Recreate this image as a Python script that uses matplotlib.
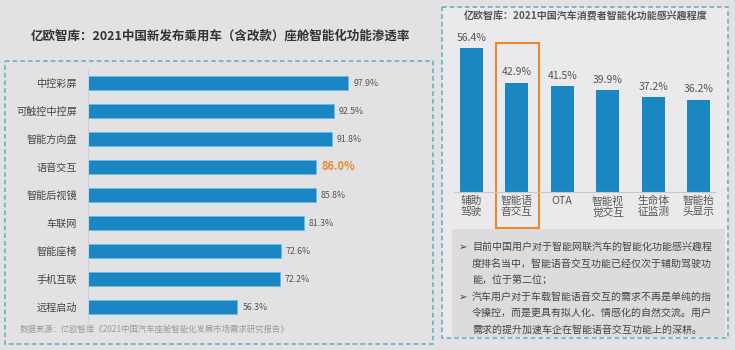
import matplotlib
matplotlib.use('Agg')
import matplotlib.pyplot as plt
from matplotlib.patches import Rectangle

plt.rcParams['font.family'] = ['Noto Sans CJK SC', 'DejaVu Sans']

# left chart: penetration rate of cockpit functions (%)
left_cats = ['中控彩屏', '可触控中控屏', '智能方向盘', '语音交互', '智能后视镜',
             '车联网', '智能座椅', '手机互联', '远程启动']
left_vals = [97.9, 92.5, 91.8, 86.0, 85.8, 81.3, 72.6, 72.2, 56.3]
left_hi = '语音交互'

# right chart: consumer interest (%)
right_cats = ['辅助\n驾驶', '智能语\n音交互', 'OTA', '智能视\n觉交互', '生命体\n征监测', '智能抬\n头显示']
right_vals = [56.4, 42.9, 41.5, 39.9, 37.2, 36.2]
right_hi = 1

notes = [
    ('➢', '目前中国用户对于智能网联汽车的智能化功能感兴趣程'),
    ('', '度排名当中，智能语音交互功能已经仅次于辅助驾驶功'),
    ('', '能，位于第二位；'),
    ('➢', '汽车用户对于车载智能语音交互的需求不再是单纯的指'),
    ('', '令操控，而是更具有拟人化、情感化的自然交流。用户'),
    ('', '需求的提升加速车企在智能语音交互功能上的深耕。'),
]

BLUE = '#1a87c3'
ORANGE = '#e8892b'
TEAL = '#5aaebd'
GRAY = '#555555'
W, H = 735, 350


def px_axes(fig, x0, y0, x1, y1, **kw):
    # axes from pixel box (top-left origin)
    return fig.add_axes([x0 / W, 1 - y1 / H, (x1 - x0) / W, (y1 - y0) / H], **kw)


fig = plt.figure(figsize=(7.35, 3.5), dpi=100, facecolor='#e2e2e4')

# background / decoration layer in pixel coords
bg = px_axes(fig, 0, 0, W, H)
bg.set_xlim(0, W)
bg.set_ylim(H, 0)
bg.axis('off')
bg.set_zorder(0)

bg.add_patch(Rectangle((5, 61), 428, 283, fill=False, ec=TEAL, lw=1.1, ls=(0, (3, 2))))
bg.add_patch(Rectangle((442, 7), 286, 331, fc='#eaeaec', ec=TEAL, lw=1.1, ls=(0, (3, 2))))
bg.add_patch(Rectangle((452, 229), 273, 108, fc='#dcdcdf', ec='none'))
bg.add_patch(Rectangle((496, 43), 43, 185, fill=False, ec=ORANGE, lw=1.5))

bg.text(220, 36, '亿欧智库：2021中国新发布乘用车（含改款）座舱智能化功能渗透率',
        ha='center', va='center', fontsize=9, fontweight='bold', color='#333333')
bg.text(586, 16, '亿欧智库：2021中国汽车消费者智能化功能感兴趣程度',
        ha='center', va='center', fontsize=7.2, fontweight='bold', color=GRAY)
bg.text(20, 329, '数据来源：亿欧智库《2021中国汽车座舱智能化发展市场需求研究报告》',
        ha='left', va='center', fontsize=6, color='#9a9a9a')

for i, (bullet, line) in enumerate(notes):
    y = 247 + i * 16.5
    if bullet:
        bg.text(459, y, bullet, ha='left', va='center', fontsize=7.5, color='#444444')
    bg.text(472, y, line, ha='left', va='center', fontsize=7.2, color='#444444')

# left horizontal bar chart
ax1 = px_axes(fig, 88, 69, 380, 321)
ax1.set_facecolor('none')
ax1.set_zorder(1)
ypos = list(range(len(left_cats)))
ax1.barh(ypos, left_vals, height=0.5, color=BLUE, edgecolor='#5cc0ec', linewidth=0.6)
ax1.set_xlim(0, 110)
ax1.set_ylim(len(left_cats) - 0.5, -0.5)
ax1.set_yticks(ypos)
ax1.set_yticklabels(left_cats, fontsize=7.3, color='#444444')
ax1.set_xticks([])
ax1.tick_params(axis='y', length=0, pad=8)
for s in ['top', 'right', 'bottom']:
    ax1.spines[s].set_visible(False)
ax1.spines['left'].set_color('#d0d0d2')
for y, cat, v in zip(ypos, left_cats, left_vals):
    if cat == left_hi:
        ax1.text(v + 2, y, f'{v:.1f}%', va='center', ha='left', fontsize=8,
                 fontweight='bold', color=ORANGE)
    else:
        ax1.text(v + 2, y, f'{v:.1f}%', va='center', ha='left', fontsize=6.3, color='#555555')

# right vertical bar chart
ax2 = px_axes(fig, 444, 30, 726, 192)
ax2.set_facecolor('none')
ax2.set_zorder(1)
xpos = list(range(len(right_cats)))
ax2.bar(xpos, right_vals, width=0.5, color=BLUE)
ax2.set_xlim(-0.6, len(right_cats) - 0.4)
ax2.set_ylim(0, 63.5)
ax2.set_yticks([])
ax2.set_xticks(xpos)
ax2.set_xticklabels(right_cats, fontsize=7.7, color=GRAY, linespacing=1.1)
ax2.tick_params(axis='x', length=0, pad=3)
for s in ['top', 'right', 'left']:
    ax2.spines[s].set_visible(False)
ax2.spines['bottom'].set_color('#c8c8ca')
ax2.spines['bottom'].set_bounds(-0.38, len(right_cats) - 0.62)
for x, v in zip(xpos, right_vals):
    ax2.annotate(f'{v:.1f}%', (x, v), textcoords='offset points', xytext=(0, 4),
                 ha='center', va='bottom', fontsize=7.5, color=GRAY)

plt.savefig('out.png', dpi=100, facecolor=fig.get_facecolor())
